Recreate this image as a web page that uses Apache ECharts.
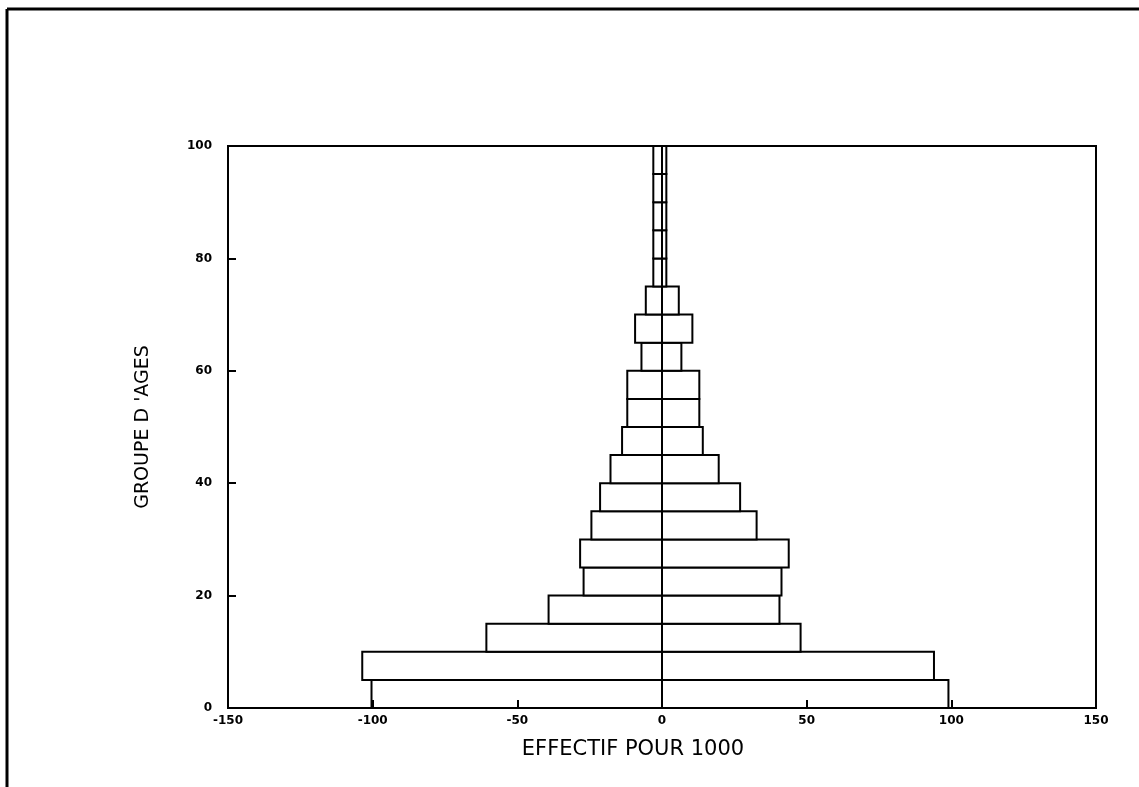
<!DOCTYPE html>
<html>
<head>
<meta charset="utf-8">
<script src="https://cdn.jsdelivr.net/npm/echarts@6/dist/echarts.min.js"></script>
<style>
html,body{margin:0;padding:0;background:#fff;}
#chart{width:1139px;height:787px;}
</style>
</head>
<body>
<div id="chart"></div>
<script>
const ageStarts = [0,5,10,15,20,25,30,35,40,45,50,55,60,65,70,75,80,85,90,95];
const leftValues = [-100.4,-103.6,-60.7,-39.2,-27.1,-28.3,-24.4,-21.4,-17.8,-13.8,-12.0,-12.0,-7.1,-9.3,-5.6,-3.0,-3.0,-3.0,-3.0,-3.0];
const rightValues = [99.0,94.0,47.9,40.6,41.3,43.8,32.7,27.0,19.6,14.1,12.9,12.9,6.7,10.5,5.8,1.5,1.5,1.5,1.5,1.5];
const bandWidth = 5;
const xTicks = [-150,-100,-50,0,50,100,150];
const yTicks = [0,20,40,60,80,100];

const data = [];
ageStarts.forEach((a,i)=>{
  data.push([leftValues[i], a, a+bandWidth]);
  data.push([rightValues[i], a, a+bandWidth]);
});

const chart = echarts.init(document.getElementById('chart'));
const labelFont = {color:'#000', fontFamily:'DejaVu Sans', fontWeight:'bold', fontSize:12};
chart.setOption({
  animation:false,
  backgroundColor:'#fff',
  grid:{left:228, right:43, top:146, bottom:79, show:true, borderColor:'#000', borderWidth:2, backgroundColor:'transparent'},
  xAxis:{
    type:'value', min:xTicks[0], max:xTicks[xTicks.length-1], interval:50,
    name:'EFFECTIF POUR 1000', nameLocation:'middle', nameGap:31,
    nameTextStyle:{color:'#000', fontFamily:'DejaVu Sans', fontSize:21, verticalAlign:'top', padding:[0,58,0,0]},
    axisLine:{show:true, onZero:false, lineStyle:{color:'#000', width:2}},
    axisTick:{show:true, inside:true, length:8, lineStyle:{color:'#000', width:2}},
    axisLabel:Object.assign({margin:7}, labelFont),
    splitLine:{show:false},
    z:10
  },
  yAxis:{
    type:'value', min:yTicks[0], max:yTicks[yTicks.length-1], interval:20,
    name:"GROUPE D 'AGES", nameLocation:'middle', nameGap:75, nameRotate:90,
    nameTextStyle:{color:'#000', fontFamily:'DejaVu Sans', fontSize:19},
    axisLine:{show:true, onZero:false, lineStyle:{color:'#000', width:2}},
    axisTick:{show:true, inside:true, length:8, lineStyle:{color:'#000', width:2}},
    axisLabel:Object.assign({margin:16}, labelFont),
    splitLine:{show:false},
    z:10
  },
  graphic:[
    {type:'line', shape:{x1:7, y1:9, x2:1139, y2:9}, style:{stroke:'#000', lineWidth:3}, silent:true},
    {type:'line', shape:{x1:7, y1:9, x2:7, y2:787}, style:{stroke:'#000', lineWidth:3}, silent:true}
  ],
  series:[{
    type:'custom',
    data:data,
    renderItem:function(params, api){
      const x = api.value(0), y0 = api.value(1), y1 = api.value(2);
      const p0 = api.coord([0, y1]);
      const p1 = api.coord([x, y0]);
      return {
        type:'rect',
        shape:{x:Math.min(p0[0],p1[0]), y:p0[1], width:Math.abs(p1[0]-p0[0]), height:p1[1]-p0[1]},
        style:{fill:'#fff', stroke:'#000', lineWidth:2}
      };
    }
  }]
});
</script>
</body>
</html>
